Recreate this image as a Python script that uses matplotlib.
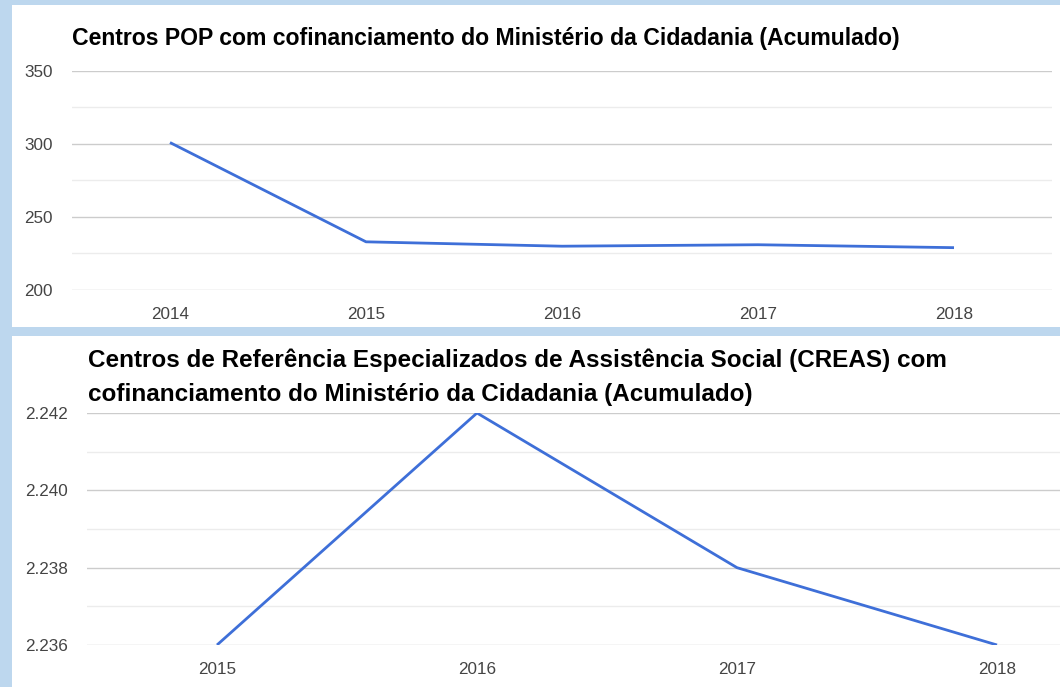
import matplotlib
matplotlib.use("Agg")
import matplotlib.pyplot as plt
from matplotlib.patches import Rectangle
from matplotlib.ticker import FuncFormatter, MultipleLocator

plt.rcParams['font.family'] = ['Liberation Sans', 'DejaVu Sans']

# Data
pop_years = ["2014", "2015", "2016", "2017", "2018"]
pop_values = [301, 233, 230, 231, 229]
pop_title = "Centros POP com cofinanciamento do Ministério da Cidadania (Acumulado)"

creas_years = ["2015", "2016", "2017", "2018"]
creas_values = [2236, 2242, 2238, 2236]
creas_title_1 = "Centros de Referência Especializados de Assistência Social (CREAS) com"
creas_title_2 = "cofinanciamento do Ministério da Cidadania (Acumulado)"

W, H = 1060, 687
fig = plt.figure(figsize=(W / 100, H / 100), dpi=100)
fig.patch.set_facecolor('#bdd7ee')

def fx(x): return x / W
def fy(y): return 1 - y / H

# white panels
fig.add_artist(Rectangle((fx(12), fy(327)), fx(1060) - fx(12), (327 - 5) / H,
                         transform=fig.transFigure, facecolor='white', edgecolor='none', zorder=0))
fig.add_artist(Rectangle((fx(12), 0), fx(1060) - fx(12), (687 - 336) / H,
                         transform=fig.transFigure, facecolor='white', edgecolor='none', zorder=0))

LINE = '#3e6fd8'
MAJ = '#cccccc'
MIN = '#ececec'
TXT = '#444444'

def style(ax):
    ax.set_facecolor('none')
    for s in ax.spines.values():
        s.set_visible(False)
    ax.tick_params(axis='both', length=0, labelsize=12.3, colors=TXT)
    ax.tick_params(axis='y', pad=14)
    ax.tick_params(axis='x', pad=12)
    ax.grid(True, which='major', axis='y', color=MAJ, linewidth=1)
    ax.grid(True, which='minor', axis='y', color=MIN, linewidth=1)
    ax.tick_params(axis='y', which='minor', length=0)
    ax.set_axisbelow(True)

# Top chart
ax1 = fig.add_axes([fx(72), fy(290), (1052 - 72) / W, (290 - 71) / H])
style(ax1)
x1 = list(range(len(pop_years)))
ax1.plot(x1, pop_values, color=LINE, linewidth=2, solid_capstyle='butt')
ax1.set_xlim(-0.5, len(pop_years) - 0.5)
ax1.set_ylim(200, 350)
ax1.yaxis.set_major_locator(MultipleLocator(50))
ax1.yaxis.set_minor_locator(MultipleLocator(25))
ax1.set_xticks(x1)
ax1.set_xticklabels(pop_years)
fig.text(fx(72), fy(38), pop_title, fontsize=16.6, fontweight='bold', color='black',
         ha='left', va='center')

# Bottom chart
ax2 = fig.add_axes([fx(87), fy(645), (1127 - 87) / W, (645 - 413) / H])
style(ax2)
x2 = list(range(len(creas_years)))
ax2.plot(x2, creas_values, color=LINE, linewidth=2, solid_capstyle='butt')
ax2.set_xlim(-0.5, len(creas_years) - 0.5)
ax2.set_ylim(2236, 2242)
ax2.yaxis.set_major_locator(MultipleLocator(2))
ax2.yaxis.set_minor_locator(MultipleLocator(1))
ax2.yaxis.set_major_formatter(FuncFormatter(lambda v, p: f"{int(round(v)):,}".replace(",", ".")))
ax2.set_xticks(x2)
ax2.set_xticklabels(creas_years)
fig.text(fx(88), fy(360), creas_title_1, fontsize=17.5, fontweight='bold', color='black',
         ha='left', va='center')
fig.text(fx(88), fy(394), creas_title_2, fontsize=17.5, fontweight='bold', color='black',
         ha='left', va='center')

fig.savefig("out.png", dpi=100, facecolor=fig.get_facecolor())
